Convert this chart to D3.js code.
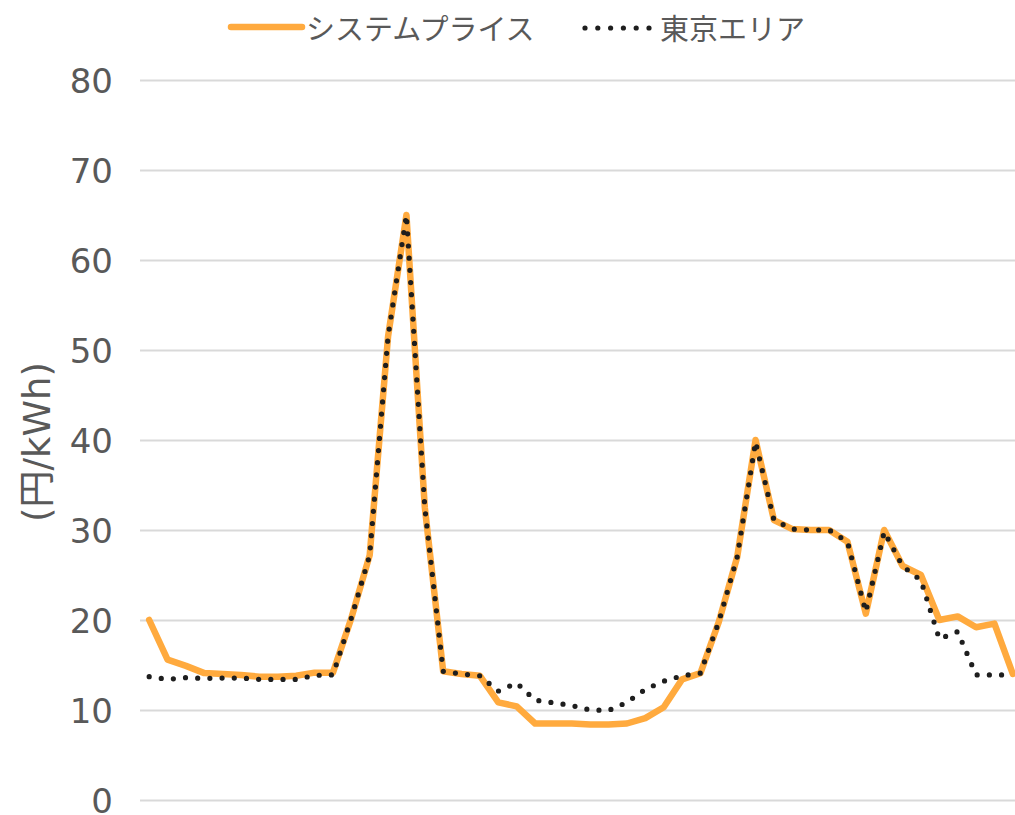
<!DOCTYPE html>
<html>
<head>
<meta charset="utf-8">
<script src="https://cdn.jsdelivr.net/npm/d3@7"></script>
<style>
  html, body { margin: 0; padding: 0; background: #ffffff; }
  svg { display: block; }
</style>
</head>
<body>
<div id="chart"></div>
<script>
const categories = [
  "0:00","0:30","1:00","1:30","2:00","2:30","3:00","3:30","4:00","4:30","5:00","5:30",
  "6:00","6:30","7:00","7:30","8:00","8:30","9:00","9:30","10:00","10:30","11:00","11:30",
  "12:00","12:30","13:00","13:30","14:00","14:30","15:00","15:30","16:00","16:30","17:00","17:30",
  "18:00","18:30","19:00","19:30","20:00","20:30","21:00","21:30","22:00","22:30","23:00","23:30"
];
const systemPrice = [
  20.0, 15.6, 14.9, 14.1, 14.0, 13.9, 13.7, 13.7, 13.8, 14.15, 14.15, 20.2,
  27.2, 51.5, 65.0, 32.5, 14.3, 14.0, 13.8, 10.85, 10.4, 8.5, 8.5, 8.5,
  8.4, 8.4, 8.5, 9.1, 10.3, 13.4, 14.1, 19.8, 27.0, 40.0, 31.1, 30.1,
  30.0, 30.0, 28.7, 20.7, 30.0, 26.0, 25.0, 20.0, 20.4, 19.2, 19.6, 14.0
];
const tokyoArea = [
  13.7, 13.4, 13.6, 13.5, 13.55, 13.55, 13.4, 13.4, 13.4, 13.85, 13.9, 20.2,
  27.2, 51.5, 65.0, 32.5, 14.3, 14.0, 13.8, 12.1, 13.0, 11.1, 10.8, 10.5,
  10.0, 9.95, 10.85, 12.3, 13.2, 13.8, 14.1, 19.8, 27.0, 39.8, 31.1, 30.1,
  30.0, 30.0, 28.7, 20.9, 29.8, 26.0, 24.4, 17.9, 18.7, 13.9, 13.9, 13.9
];
const yTicks = [0, 10, 20, 30, 40, 50, 60, 70, 80];
const seriesNames = ["システムプライス", "東京エリア"];
const yTitle = "(円/kWh)";

const W = 1015, H = 815;
const ORANGE = "#FFAA3E";
const DOT = "#1e1e1e";
const TEXT = "#595959";

const svg = d3.select("#chart").append("svg")
  .attr("width", W).attr("height", H)
  .style("background", "#fff");

const x = d3.scalePoint().domain(categories).range([140, 1022]).padding(0.5);
const y = d3.scaleLinear().domain([0, 80]).range([800, 80]);

// gridlines and tick labels
const yAxis = d3.axisLeft(y).tickValues(yTicks).tickSize(-(1022 - 140)).tickFormat(d3.format("d")).tickPadding(27);
const gAxis = svg.append("g").attr("transform", "translate(140,0)").call(yAxis);
gAxis.select(".domain").remove();
gAxis.selectAll(".tick line").attr("stroke", "#d9d9d9").attr("stroke-width", 2);
gAxis.selectAll(".tick text")
  .attr("fill", TEXT)
  .style("font-family", "'DejaVu Sans', 'Noto Sans', sans-serif")
  .style("font-size", "34px")
  .attr("dy", "0.36em");

// axis title
svg.append("text")
  .attr("transform", "translate(37,442) rotate(-90)")
  .attr("text-anchor", "middle")
  .attr("dominant-baseline", "central")
  .attr("fill", TEXT)
  .style("font-family", "'DejaVu Sans', 'Noto Sans CJK JP', sans-serif")
  .style("font-size", "37px")
  .text(yTitle);

const line = d3.line()
  .x((d, i) => x(categories[i]))
  .y(d => y(d));

svg.append("path")
  .datum(systemPrice)
  .attr("d", line)
  .attr("fill", "none")
  .attr("stroke", ORANGE)
  .attr("stroke-width", 6.5)
  .attr("stroke-linejoin", "round")
  .attr("stroke-linecap", "round");

svg.append("path")
  .datum(tokyoArea)
  .attr("d", line)
  .attr("fill", "none")
  .attr("stroke", DOT)
  .attr("stroke-width", 5.2)
  .attr("stroke-linecap", "round")
  .attr("stroke-dasharray", "0 12.2");

// legend
const leg = svg.append("g");
leg.append("line")
  .attr("x1", 231).attr("x2", 302).attr("y1", 27).attr("y2", 27)
  .attr("stroke", ORANGE).attr("stroke-width", 6.5).attr("stroke-linecap", "round");
leg.append("text")
  .attr("x", 306).attr("y", 27)
  .attr("dominant-baseline", "central")
  .attr("fill", TEXT)
  .style("font-family", "'Noto Sans CJK JP', sans-serif")
  .style("font-size", "29px")
  .text(seriesNames[0]);
leg.append("line")
  .attr("x1", 585).attr("x2", 650).attr("y1", 28).attr("y2", 28)
  .attr("stroke", DOT).attr("stroke-width", 5.2).attr("stroke-linecap", "round")
  .attr("stroke-dasharray", "0 12.8");
leg.append("text")
  .attr("x", 660).attr("y", 27)
  .attr("dominant-baseline", "central")
  .attr("fill", TEXT)
  .style("font-family", "'Noto Sans CJK JP', sans-serif")
  .style("font-size", "29px")
  .text(seriesNames[1]);
</script>
</body>
</html>
